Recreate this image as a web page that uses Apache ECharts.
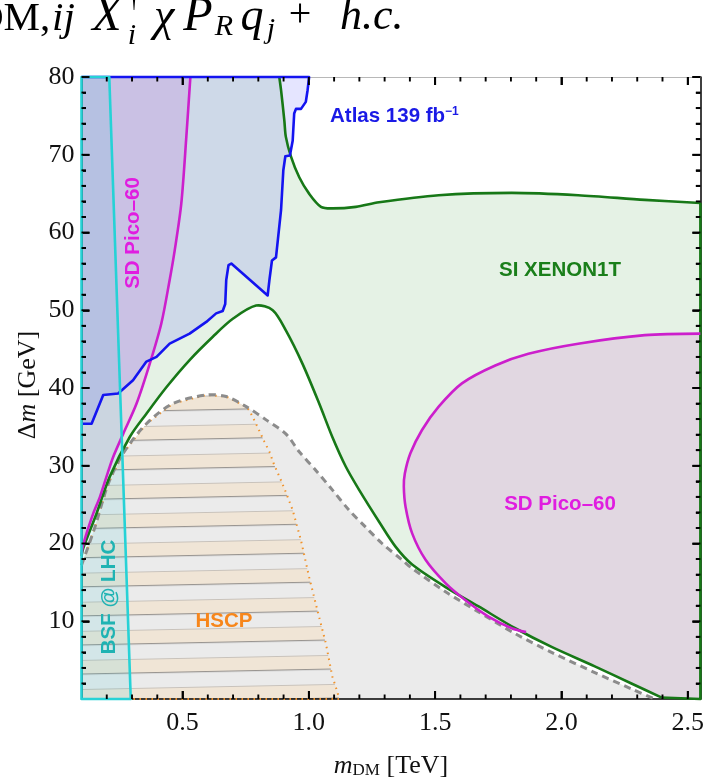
<!DOCTYPE html>
<html><head><meta charset="utf-8">
<script src="https://cdn.jsdelivr.net/npm/echarts@6/dist/echarts.min.js"></script>
<style>html,body{margin:0;padding:0;background:#fff}#c{width:707px;height:780px}</style>
</head><body><div id="c"></div>
<script>
// ---------- data (m_DM in TeV, Δm in GeV) ----------
const xMajorTicks = [0.5, 1.0, 1.5, 2.0, 2.5];
const yMajorTicks = [10, 20, 30, 40, 50, 60, 70, 80];
const xRange = [0.1, 2.55];
const yRange = [0, 80];

// BSF @ LHC boundary (cyan)
const bsfBoundary = [[0.21, 80], [0.295, 0]];

// ATLAS 139 fb^-1 exclusion boundary (blue), from left edge to top edge
const atlasBoundary = [[0.1, 35.4], [0.14, 35.4], [0.186, 39.1], [0.245, 39.3], [0.304, 41.0], [0.357, 43.4],
  [0.397, 44.0], [0.449, 45.7], [0.528, 47.0], [0.594, 48.5], [0.633, 49.6], [0.659, 49.9], [0.669, 50.8],
  [0.673, 53.9], [0.682, 55.8], [0.693, 56.0], [0.837, 51.9], [0.844, 53.9], [0.854, 56.4], [0.870, 56.8],
  [0.890, 62.9], [0.899, 68.0], [0.907, 69.8], [0.925, 69.9], [0.936, 71.8], [0.942, 75.3], [0.949, 75.9],
  [0.969, 75.9], [0.988, 76.8], [0.995, 78.3], [1.001, 80]];

// SI XENON1T boundary (green): lower hump and upper curve
const xenonLower = [[0.1, 18.4], [0.107, 19.4], [0.160, 23.9], [0.212, 28.6], [0.291, 33.7], [0.357, 36.7],
  [0.436, 40.1], [0.528, 43.6], [0.620, 46.6], [0.699, 48.9], [0.791, 50.6], [0.857, 50.0], [0.909, 47.4],
  [0.975, 43.1], [1.041, 38.0], [1.093, 33.7], [1.146, 29.9], [1.199, 26.9], [1.278, 22.8], [1.343, 19.6],
  [1.409, 17.3], [1.541, 14.4], [1.672, 11.9], [1.817, 9.1], [1.961, 6.7], [2.132, 4.2], [2.277, 2.0], [2.395, 0.2]];
const xenonUpper = [[2.55, 63.8], [2.330, 64.2], [2.066, 64.8], [1.803, 65.1], [1.514, 64.8], [1.278, 63.9],
  [1.186, 63.3], [1.093, 63.1], [1.048, 63.3], [1.001, 65.0], [0.962, 67.1], [0.929, 69.8], [0.909, 72.3],
  [0.903, 74.4], [0.890, 78.3], [0.883, 80]];

// SD PICO-60 boundaries (magenta)
const picoLeftBoundary = [[0.1, 18.6], [0.105, 19.6], [0.120, 21.3], [0.147, 23.9], [0.173, 26.0], [0.199, 28.6],
  [0.225, 31.1], [0.265, 34.1], [0.318, 38.0], [0.370, 43.1], [0.416, 48.3], [0.449, 53.9], [0.469, 57.7],
  [0.495, 63.7], [0.515, 72.3], [0.531, 80]];
const picoRightBoundary = [[2.55, 47.0], [2.330, 46.8], [2.066, 45.7], [1.869, 44.4], [1.738, 42.9], [1.606, 40.6],
  [1.514, 37.6], [1.448, 34.6], [1.402, 31.6], [1.380, 29.0], [1.376, 27.3], [1.383, 24.7], [1.409, 21.3],
  [1.462, 17.9], [1.541, 14.9], [1.620, 12.7], [1.711, 10.6], [1.803, 9.1], [1.86, 8.6]];

// gray dashed envelope (lower gray region)
const grayEnvelope = [[0.1, 17.2], [0.153, 22.1], [0.206, 27.7], [0.265, 31.6], [0.357, 35.4], [0.462, 38.0],
  [0.594, 39.1], [0.673, 38.9], [0.752, 37.6], [0.831, 35.9], [0.909, 34.1], [0.962, 31.8], [1.028, 29.4],
  [1.093, 26.9], [1.159, 24.3], [1.225, 22.1], [1.290, 20.0], [1.369, 17.9], [1.409, 16.8], [1.541, 13.8],
  [1.672, 11.2], [1.817, 8.4], [1.961, 6.0], [2.132, 3.4], [2.277, 1.3], [2.369, 0]];

// HSCP right boundary (orange dotted)
const hscpRight = [[0.765, 37.1], [0.791, 35.4], [0.824, 33.1], [0.844, 31.8], [0.863, 30.1], [0.890, 28.1],
  [0.909, 26.6], [0.936, 24.3], [0.969, 20.4], [1.001, 15.7], [1.034, 11.4], [1.067, 7.2], [1.093, 2.9],
  [1.113, 0.9], [1.12, 0]];

// ---------- derived shapes ----------
const X0 = xRange[0], X1 = xRange[1], Y0 = yRange[0], Y1 = yRange[1];
const grayPoly = [[X0, Y0], ...grayEnvelope];
const hscpTop = grayEnvelope.filter(p => p[0] <= 0.752);
const hscpPoly = [[X0, Y0], ...hscpTop, ...hscpRight];
const hscpStroke = [...hscpTop, ...hscpRight, [X0, Y0]];
const xenonPoly = [...xenonLower, [X1, Y0], ...xenonUpper, [X0, Y1]];
const picoLPoly = [...picoLeftBoundary, [X0, Y1]];
const picoRPoly = [...picoRightBoundary, ...xenonLower.filter(p => p[0] > 1.86), [X1, Y0]];
const atlasPoly = [...atlasBoundary, [X0, Y1]];
const bsfPoly = [[X0, Y0], [X0, Y1], ...bsfBoundary];

// minor ticks: every 0.1 TeV and every 2 GeV
const xMinorTicks = [];
for (let i = 2; i <= 25; i++) if (i % 5 !== 0) xMinorTicks.push(i / 10);
const yMinorTicks = [];
for (let v = 2; v < 80; v += 2) if (v % 10 !== 0) yMinorTicks.push(v);

// ---------- rendering ----------
const chart = echarts.init(document.getElementById('c'));

function stripePattern(api) {
  const period = 3.74, top = 1.61;
  const a = api.coord([0.6, top]);
  const b = api.coord([0.6, top + period]);
  const P = a[1] - b[1];
  const H = 30, W = 8;
  const cv = document.createElement('canvas');
  cv.width = W; cv.height = H;
  const g = cv.getContext('2d');
  g.fillStyle = '#f0e5d6';
  g.fillRect(0, 0, W, H / 2);
  g.fillStyle = 'rgba(160,160,160,0.5)';
  g.fillRect(0, 0, W, 1);
  g.fillStyle = 'rgba(115,115,115,0.7)';
  g.fillRect(0, H / 2 - 1, W, 1.2);
  return { image: cv, repeat: 'repeat', x: a[0], y: a[1], rotation: -0.02, scaleX: 1, scaleY: P / H };
}

function fillSeries(pts, fill, z) {
  return {
    type: 'custom', coordinateSystem: 'cartesian2d', xAxisIndex: 0, yAxisIndex: 0, z: z, silent: true,
    data: [[pts[0][0], pts[0][1]]],
    renderItem: function (params, api) {
      const f = fill === 'stripes' ? stripePattern(api) : fill;
      return { type: 'polygon', shape: { points: pts.map(p => api.coord(p)) }, style: { fill: f, stroke: null } };
    }
  };
}
function lineSeries(pts, color, width, dash, z, closed, smooth) {
  return {
    type: 'custom', coordinateSystem: 'cartesian2d', xAxisIndex: 0, yAxisIndex: 0, z: z, silent: true,
    data: [[pts[0][0], pts[0][1]]],
    renderItem: function (params, api) {
      return {
        type: closed ? 'polygon' : 'polyline',
        shape: { points: pts.map(p => api.coord(p)), smooth: smooth || 0 },
        style: { fill: 'none', stroke: color, lineWidth: width, lineDash: dash || null, lineJoin: 'round' }
      };
    }
  };
}
// one inward frame tick, drawn as a thin filled bar placed through the axis scale
function tickMark(value, dir, len) {
  const anchor = dir === 'b' ? [value, Y0] : dir === 't' ? [value, Y1] : dir === 'l' ? [X0, value] : [X1, value];
  const hw = 0.95;
  return {
    type: 'custom', coordinateSystem: 'cartesian2d', xAxisIndex: 0, yAxisIndex: 0, z: 9, silent: true,
    data: [anchor],
    renderItem: function (params, api) {
      const p = api.coord(anchor);
      let pts;
      if (dir === 'b') pts = [[p[0] - hw, p[1]], [p[0] + hw, p[1]], [p[0] + hw, p[1] - len], [p[0] - hw, p[1] - len]];
      else if (dir === 't') pts = [[p[0] - hw, p[1]], [p[0] + hw, p[1]], [p[0] + hw, p[1] + len], [p[0] - hw, p[1] + len]];
      else if (dir === 'l') pts = [[p[0], p[1] - hw], [p[0], p[1] + hw], [p[0] + len, p[1] + hw], [p[0] + len, p[1] - hw]];
      else pts = [[p[0], p[1] - hw], [p[0], p[1] + hw], [p[0] - len, p[1] + hw], [p[0] - len, p[1] - hw]];
      return { type: 'polygon', shape: { points: pts }, style: { fill: '#000', stroke: null } };
    }
  };
}
const tickMarks = [];
xMajorTicks.forEach(v => { tickMarks.push(tickMark(v, 'b', 8), tickMark(v, 't', 8)); });
xMinorTicks.forEach(v => { tickMarks.push(tickMark(v, 'b', 4.5), tickMark(v, 't', 4.5)); });
yMajorTicks.forEach(v => { tickMarks.push(tickMark(v, 'l', 8), tickMark(v, 'r', 8)); });
yMinorTicks.forEach(v => { tickMarks.push(tickMark(v, 'l', 4.5), tickMark(v, 'r', 4.5)); });

const serif = '"Liberation Serif", "DejaVu Serif", serif';
const sans = '"Liberation Sans", Arial, sans-serif';
const frameBlack = { show: true, onZero: false, lineStyle: { color: '#000', width: 1.5 } };
const frameGray = { show: true, onZero: false, lineStyle: { color: '#b8b8b8', width: 1.2 } };
const tickStyle = { color: '#000', width: 1.8 };

const option = {
  animation: false,
  grid: { left: 81.5, right: 4.5, top: 77, bottom: 81 },
  xAxis: [
    { type: 'value', position: 'bottom', min: X0, max: X1, splitLine: { show: false }, axisLine: frameBlack,
      axisTick: { show: true, inside: true, length: 8, customValues: xMajorTicks, lineStyle: tickStyle },
      axisLabel: { show: true, customValues: xMajorTicks, formatter: v => v.toFixed(1), fontFamily: serif, fontSize: 26, color: '#111', margin: 11 } },
    { type: 'value', position: 'top', min: X0, max: X1, splitLine: { show: false }, axisLine: frameGray,
      axisTick: { show: true, inside: true, length: 8, customValues: xMajorTicks, lineStyle: tickStyle }, axisLabel: { show: false } }
  ],
  yAxis: [
    { type: 'value', position: 'left', min: Y0, max: Y1, interval: 10, splitLine: { show: false }, axisLine: frameBlack,
      axisTick: { show: true, inside: true, length: 8, lineStyle: tickStyle },
      minorTick: { show: true, splitNumber: 5, length: 4.5, lineStyle: tickStyle },
      axisLabel: { show: true, customValues: yMajorTicks, fontFamily: serif, fontSize: 26, color: '#111', margin: 7 } },
    { type: 'value', position: 'right', min: Y0, max: Y1, interval: 10, splitLine: { show: false }, axisLine: frameBlack,
      axisTick: { show: true, inside: true, length: 8, lineStyle: tickStyle },
      minorTick: { show: true, splitNumber: 5, length: 4.5, lineStyle: tickStyle }, axisLabel: { show: false } }
  ],
  series: [
    ...tickMarks,
    fillSeries(grayPoly, '#ebebeb', -10),
    fillSeries(hscpPoly, 'stripes', -9),
    fillSeries(xenonPoly, 'rgba(0,128,0,0.1)', -8),
    fillSeries(picoRPoly, 'rgba(190,20,190,0.12)', -7),
    fillSeries(picoLPoly, 'rgba(190,20,190,0.12)', -7),
    fillSeries(atlasPoly, 'rgba(0,0,255,0.1)', -6),
    fillSeries(bsfPoly, 'rgba(40,200,210,0.12)', -5),
    lineSeries(hscpStroke, '#f0922a', 2, [1.5, 4.5], 3),
    lineSeries(grayEnvelope, '#8c8c8c', 3, [7, 5], 4, false, 0.3),
    lineSeries(xenonLower, '#177817', 2.6, null, 5, false, 0.3),
    lineSeries([xenonLower[xenonLower.length - 1], [X1, Y0], xenonUpper[0]], '#177817', 2.6, null, 5),
    lineSeries(xenonUpper, '#177817', 2.6, null, 5, false, 0.3),
    lineSeries(picoRightBoundary, '#cc1fcc', 2.6, null, 6, false, 0.3),
    lineSeries(picoLeftBoundary, '#cc1fcc', 2.6, null, 6, false, 0.3),
    lineSeries([...atlasBoundary, [X0, Y1]], '#1414f0', 2.6, null, 7),
    lineSeries(bsfPoly, '#26d2d6', 2.6, null, 8, true)
  ],
  graphic: [
    // region labels
    { type: 'text', x: 330, y: 116, z: 50, style: { text: '{a|Atlas 139 fb}{s|−1}', fill: '#1a1ae6', verticalAlign: 'middle',
      rich: { a: { font: 'bold 20.5px ' + sans, fill: '#1a1ae6' }, s: { font: 'bold 12px ' + sans, fill: '#1a1ae6', verticalAlign: 'top', lineHeight: 12 } } } },
    { type: 'text', x: 560, y: 270, z: 50, style: { text: 'SI XENON1T', fill: '#1a7f1a', font: 'bold 20.5px ' + sans, align: 'center', verticalAlign: 'middle' } },
    { type: 'text', x: 560, y: 504, z: 50, style: { text: 'SD Pico–60', fill: '#e01de0', font: 'bold 20.5px ' + sans, align: 'center', verticalAlign: 'middle' } },
    { type: 'text', x: 133, y: 233, rotation: Math.PI / 2, z: 50, style: { text: 'SD Pico–60', fill: '#e01de0', font: 'bold 20.5px ' + sans, align: 'center', verticalAlign: 'middle' } },
    { type: 'text', x: 224, y: 621, z: 50, style: { text: 'HSCP', fill: '#f7861b', font: 'bold 20.5px ' + sans, align: 'center', verticalAlign: 'middle' } },
    { type: 'text', x: 109, y: 597, rotation: Math.PI / 2, z: 50, style: { text: 'BSF @ LHC', fill: '#1fb3b3', font: 'bold 20.5px ' + sans, align: 'center', verticalAlign: 'middle' } },
    // axis titles
    { type: 'text', x: 391, y: 766, z: 50, style: { text: '{m|m}{s|DM}{u| [TeV]}', align: 'center', verticalAlign: 'middle',
      rich: { m: { font: 'italic 26px ' + serif, fill: '#111' }, s: { font: '17px ' + serif, fill: '#111', verticalAlign: 'bottom', lineHeight: 22 }, u: { font: '26px ' + serif, fill: '#111' } } } },
    { type: 'text', x: 28, y: 385, rotation: Math.PI / 2, z: 50, style: { text: '{d|Δ}{m|m}{u| [GeV]}', align: 'center', verticalAlign: 'middle',
      rich: { d: { font: '26px ' + serif, fill: '#111' }, m: { font: 'italic 26px ' + serif, fill: '#111' }, u: { font: '26px ' + serif, fill: '#111' } } } },
    // cropped formula at top
    { type: 'text', x: -26, y: 19, style: { text: 'DM,', font: '41px ' + serif, fill: '#000', verticalAlign: 'middle' } },
    { type: 'text', x: 52, y: 19, style: { text: 'ij', font: 'italic 41px ' + serif, fill: '#000', verticalAlign: 'middle' } },
    { type: 'text', x: 107, y: 17, style: { text: 'X', font: 'italic 48px ' + serif, fill: '#000', align: 'center', verticalAlign: 'middle' } },
    { type: 'text', x: 134, y: -2, style: { text: '†', font: '30px ' + serif, fill: '#000', align: 'center', verticalAlign: 'middle' } },
    { type: 'text', x: 132, y: 36, style: { text: 'i', font: 'italic 30px ' + serif, fill: '#000', align: 'center', verticalAlign: 'middle' } },
    { type: 'text', x: 164, y: 18, style: { text: 'χ', font: 'italic 46px ' + serif, fill: '#000', align: 'center', verticalAlign: 'middle' } },
    { type: 'text', x: 198, y: 17, style: { text: 'P', font: 'italic 48px ' + serif, fill: '#000', align: 'center', verticalAlign: 'middle' } },
    { type: 'text', x: 224, y: 27, style: { text: 'R', font: 'italic 30px ' + serif, fill: '#000', align: 'center', verticalAlign: 'middle' } },
    { type: 'text', x: 252, y: 18, style: { text: 'q', font: 'italic 46px ' + serif, fill: '#000', align: 'center', verticalAlign: 'middle' } },
    { type: 'text', x: 271, y: 30, style: { text: 'j', font: 'italic 30px ' + serif, fill: '#000', align: 'center', verticalAlign: 'middle' } },
    { type: 'text', x: 300, y: 15, style: { text: '+', font: '40px ' + serif, fill: '#000', align: 'center', verticalAlign: 'middle' } },
    { type: 'text', x: 340, y: 17, style: { text: 'h.c.', font: 'italic 44px ' + serif, fill: '#000', verticalAlign: 'middle' } }
  ]
};
chart.setOption(option);
</script>
</body></html>
